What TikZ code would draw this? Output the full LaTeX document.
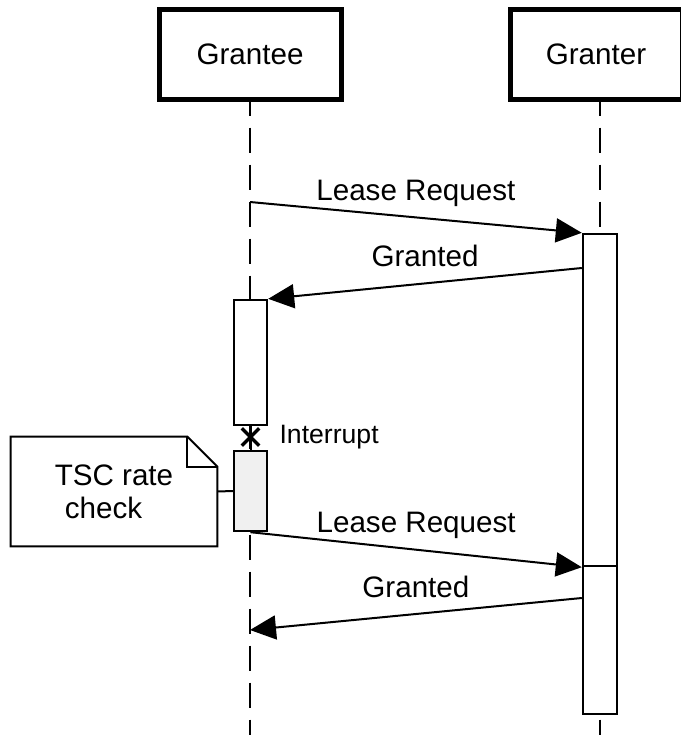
\documentclass[tikz,border=0pt]{standalone}
\usepackage{fontspec}
\setmainfont{Liberation Sans}
\usetikzlibrary{positioning,arrows.meta,shapes.misc}

\begin{document}
\begin{tikzpicture}[x=0.5pt,y=-0.5pt,
    actor/.style={draw,line width=2.5pt,minimum width=91pt,minimum height=45pt,font=\fontsize{14.8}{17}\selectfont},
    activation/.style={draw,fill=white,line width=1.2pt,minimum width=16.5pt},
    lifeline/.style={line width=1pt,dash pattern=on 12.5pt off 6pt,dash phase=5.5pt},
    msg/.style={line width=1pt,-{Triangle[length=13pt,width=12pt]}},
    msglabel/.style={midway,anchor=base,yshift=8.5pt,font=\fontsize{14.8}{17}\selectfont},
    notebox/.style={minimum width=103pt,minimum height=54.5pt,align=left,font=\fontsize{14.8}{16.5}\selectfont}]
  \useasboundingbox (0,0) rectangle (681,735);
  \coordinate (bottom) at (0,735);
  % Define nodes
  \node[actor] (grantee) at (250,54) {Grantee};
  \node[actor, minimum width=86pt] (granter) at (596,54) {Granter};
  % Lifelines
  \draw[lifeline] (grantee.south) -- (grantee.south |- bottom);
  \draw[lifeline] ([xshift=2pt]granter.south) -- ([xshift=2pt]granter.south |- bottom);
  % Activations
  \node[activation, minimum height=62.5pt] (ea1) at (250.5,362.5) {};
  \node[activation, minimum height=40pt, fill=black!6] (ea2) at (250.5,491) {};
  \node[activation, minimum width=17pt, minimum height=166pt] (ga1) at (600,400) {};
  \node[activation, minimum width=17pt, minimum height=74pt] (ga2) at (600,640) {};
  % Interrupt
  \draw[line width=1pt] (ea1.south) -- (ea2.north);
  \node[cross out, draw, line width=1.7pt, minimum size=7pt, inner sep=0pt] (intr) at (250.5,437) {};
  \node[right=10pt of intr, inner sep=0pt, font=\fontsize{13.3}{16}\selectfont] (intrlabel) {Interrupt};
  % Note
  \node[notebox] (note) at (114,491.5) {TSC rate\\\hspace{5pt}check};
  \draw[line width=1pt] (note.north west) -- ([xshift=-15pt]note.north east)
    -- ([yshift=-15pt]note.north east) -- (note.south east) -- (note.south west) -- cycle;
  \draw[line width=1pt] ([xshift=-15pt]note.north east) |- ([yshift=-15pt]note.north east);
  \draw[line width=1pt] (note.east) -- (ea2.west);
  % Connect nodes
  \coordinate (m1) at (grantee.south |- 0,202);
  \coordinate (m2) at (ga1.west |- 0,268);
  \coordinate (m4s) at (ga2.west |- 0,598);
  \coordinate (m4e) at (grantee.south |- 0,630);
  \draw[msg] (m1) -- (ga1.north west) node[msglabel] {Lease Request};
  \draw[msg] (m2) -- (ea1.north east) node[msglabel] {Granted};
  \draw[msg] (ea2.south) -- (ga1.south west) node[msglabel] {Lease Request};
  \draw[msg] (m4s) -- (m4e) node[msglabel] {Granted};
\end{tikzpicture}
\end{document}
